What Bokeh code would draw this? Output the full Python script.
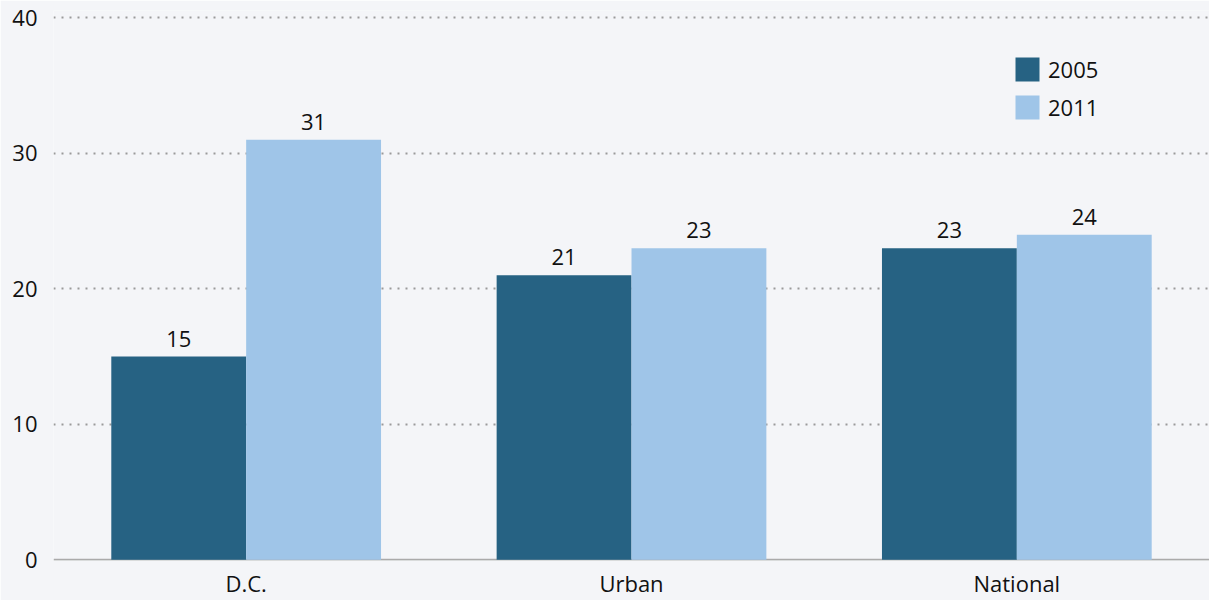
from bokeh.plotting import figure
from bokeh.models import (ColumnDataSource, FactorRange, Range1d, Legend, LegendItem,
                          Span, FixedTicker)
from bokeh.transform import dodge
from bokeh.core.properties import value
from bokeh.embed import file_html
from bokeh.resources import INLINE

# ---- data ----
categories = ["D.C.", "Urban", "National"]
years = ["2005", "2011"]
values_2005 = [15, 21, 23]
values_2011 = [31, 23, 24]
y_ticks = [0, 10, 20, 30, 40]

# ---- style ----
BG = "#f4f5f8"
DARK = "#266283"
LIGHT = "#9fc5e8"
FONT = "Open Sans"
FS = "22px"
TXT = "#111111"

src = ColumnDataSource(dict(
    cat=categories,
    v2005=values_2005,
    v2011=values_2011,
    l2005=[str(v) for v in values_2005],
    l2011=[str(v) for v in values_2011],
))

p = figure(width=1209, height=600,
           x_range=FactorRange(*categories, range_padding=0),
           y_range=Range1d(-0.05, 40.55),
           output_backend="svg", toolbar_location=None,
           background_fill_color=BG, border_fill_color=BG,
           outline_line_color=None,
           min_border_left=53, min_border_right=0,
           min_border_top=10, min_border_bottom=0)

# grid
p.xgrid.visible = False
p.ygrid.ticker = FixedTicker(ticks=[t for t in y_ticks if t != 0])
p.ygrid.grid_line_color = "#9a9a9a"
p.ygrid.grid_line_dash = "2 6"
p.ygrid.grid_line_width = 2

# zero line
p.add_layout(Span(location=0, dimension="width", line_color="#aaaaaa",
                  line_width=2, level="underlay"))

# axes
p.yaxis.ticker = FixedTicker(ticks=y_ticks)
p.yaxis.axis_line_color = None
p.yaxis.major_tick_line_color = None
p.yaxis.minor_tick_line_color = None
p.yaxis.major_tick_out = 0
p.yaxis.major_label_standoff = 16
p.yaxis.major_label_text_font = FONT
p.yaxis.major_label_text_font_size = FS
p.yaxis.major_label_text_color = TXT

p.xaxis.axis_line_color = None
p.xaxis.major_tick_line_color = None
p.xaxis.minor_tick_line_color = None
p.xaxis.major_tick_out = 0
p.xaxis.major_label_standoff = 7
p.xaxis.major_label_text_font = FONT
p.xaxis.major_label_text_font_size = FS
p.xaxis.major_label_text_color = TXT

# bars
x05 = dodge("cat", -0.175, range=p.x_range)
x11 = dodge("cat", 0.175, range=p.x_range)
r1 = p.vbar(x=x05, top="v2005", width=0.35, source=src,
            fill_color=DARK, line_color=None)
r2 = p.vbar(x=x11, top="v2011", width=0.35, source=src,
            fill_color=LIGHT, line_color=None)

# value labels
for xx, col in ((x05, "2005"), (x11, "2011")):
    p.text(x=xx, y="v" + col, text="l" + col, source=src,
           text_align="center", text_baseline="alphabetic", y_offset=-18,
           text_font=value(FONT), text_font_size=FS, text_color=TXT)

legend = Legend(items=[LegendItem(label=years[0], renderers=[r1]),
                       LegendItem(label=years[1], renderers=[r2])],
                location=(959, 438),
                glyph_width=30, glyph_height=30, spacing=8,
                padding=0, margin=0, label_standoff=6,
                border_line_color=None, background_fill_alpha=0,
                label_text_font=FONT, label_text_font_size=FS,
                label_text_color=TXT)
p.add_layout(legend)

open("out.html", "w").write(file_html(p, INLINE))
